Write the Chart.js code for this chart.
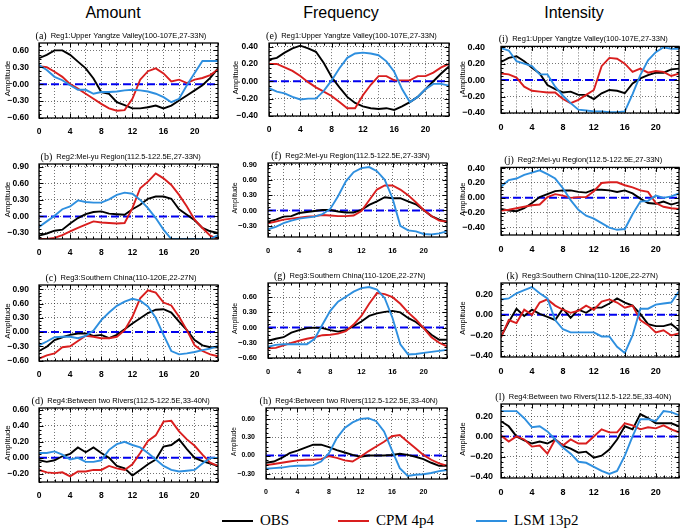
<!DOCTYPE html>
<html>
<head>
<meta charset="utf-8">
<script src="https://cdn.jsdelivr.net/npm/chart.js@4.4.1/dist/chart.umd.min.js"></script>
<style>
  body { margin:0; background:#fff; }
  #page { position:relative; width:685px; height:529px; overflow:hidden; font-family:"Liberation Sans", Arial, sans-serif; }
  .head { position:absolute; top:4px; font-size:16px; transform:translateX(-50%); white-space:nowrap; }
  .panel { position:absolute; }
  .leg { position:absolute; top:512px; font-family:"Liberation Serif", "Times New Roman", serif; font-size:15px; white-space:nowrap; }
  .leg i { display:inline-block; width:31px; height:2px; vertical-align:middle; margin-right:7px; position:relative; top:-1px; }
</style>
</head>
<body>
<div id="page">
  <div class="head" style="left:113px">Amount</div>
  <div class="head" style="left:341px">Frequency</div>
  <div class="head" style="left:574px">Intensity</div>

  <div class="leg" style="left:222px"><i style="background:#000"></i>OBS</div>
  <div class="leg" style="left:338px"><i style="background:#d91e1e"></i>CPM 4p4</div>
  <div class="leg" style="left:476px"><i style="background:#2e8fdf"></i>LSM 13p2</div>
</div>
<script>
// ------------------------- Data -------------------------
const HOURS = [0,1,2,3,4,5,6,7,8,9,10,11,12,13,14,15,16,17,18,19,20,21,22,23];
const GRID_HOURS = [0,2,4,6,8,10,12,14,16,18,20,22];

// Reg1: Upper Yangtze Valley
const amtReg1Obs = [0.46,0.52,0.60,0.60,0.52,0.40,0.28,0.10,-0.14,-0.17,-0.32,-0.37,-0.43,-0.43,-0.41,-0.38,-0.43,-0.38,-0.29,-0.20,-0.11,-0.02,0.11,0.28];
const amtReg1Cpm = [0.32,0.30,0.22,0.13,0.00,-0.08,-0.17,-0.26,-0.35,-0.43,-0.47,-0.46,-0.26,0.08,0.23,0.28,0.19,0.05,0.08,0.02,0.08,0.11,0.16,0.26];
const amtReg1Lsm = [0.34,0.25,0.13,0.07,-0.02,-0.10,-0.10,-0.17,-0.14,-0.14,-0.13,-0.11,-0.10,-0.11,-0.13,-0.17,-0.23,-0.32,-0.26,-0.02,0.20,0.41,0.41,0.41];
const frqReg1Obs = [0.25,0.27,0.33,0.38,0.41,0.38,0.34,0.21,0.05,-0.07,-0.18,-0.25,-0.29,-0.31,-0.32,-0.31,-0.33,-0.29,-0.24,-0.18,-0.09,0.00,0.09,0.17];
const frqReg1Cpm = [0.20,0.20,0.16,0.12,0.06,-0.01,-0.07,-0.12,-0.17,-0.24,-0.31,-0.31,-0.16,-0.04,0.06,0.06,0.01,0.01,0.01,0.06,0.06,0.10,0.16,0.20];
const frqReg1Lsm = [-0.08,-0.12,-0.14,-0.18,-0.21,-0.20,-0.20,-0.11,0.01,0.15,0.27,0.32,0.33,0.32,0.30,0.23,0.11,-0.09,-0.24,-0.18,-0.09,-0.03,-0.03,-0.05];
const intReg1Obs = [0.22,0.27,0.29,0.23,0.15,0.08,-0.06,-0.11,-0.15,-0.14,-0.18,-0.18,-0.23,-0.16,-0.12,-0.13,-0.16,-0.04,0.02,0.06,0.09,0.09,0.13,0.14];
const intReg1Cpm = [0.08,0.07,0.03,-0.08,-0.13,-0.14,-0.15,-0.15,-0.23,-0.28,-0.24,-0.18,-0.12,0.17,0.27,0.26,0.20,0.10,0.14,0.09,0.11,0.10,0.05,0.08];
const intReg1Lsm = [0.39,0.36,0.23,0.20,0.17,0.07,0.07,-0.08,-0.19,-0.28,-0.36,-0.37,-0.38,-0.38,-0.39,-0.39,-0.38,-0.17,0.06,0.24,0.34,0.40,0.38,0.38];

// Reg2: Mei-yu Region
const amtReg2Obs = [-0.35,-0.31,-0.26,-0.24,-0.13,-0.03,0.04,0.08,0.09,0.05,0.04,0.03,0.13,0.21,0.32,0.36,0.36,0.32,0.13,0.03,-0.07,-0.21,-0.27,-0.30];
const amtReg2Cpm = [-0.41,-0.41,-0.39,-0.34,-0.27,-0.21,-0.15,-0.09,-0.11,-0.12,-0.13,-0.12,0.15,0.51,0.63,0.78,0.69,0.57,0.39,0.18,-0.06,-0.21,-0.35,-0.41];
const amtReg2Lsm = [-0.19,-0.09,0.01,0.13,0.18,0.29,0.26,0.25,0.25,0.31,0.39,0.43,0.41,0.30,0.15,-0.03,-0.24,-0.41,-0.41,-0.41,-0.41,-0.41,-0.41,-0.34];
const frqReg2Obs = [-0.22,-0.18,-0.12,-0.11,-0.05,-0.03,-0.01,0.01,0.01,-0.02,-0.04,-0.04,0.01,0.11,0.18,0.26,0.24,0.24,0.18,0.12,0.01,-0.11,-0.18,-0.22];
const frqReg2Cpm = [-0.25,-0.22,-0.18,-0.16,-0.14,-0.12,-0.11,-0.09,-0.10,-0.11,-0.11,-0.10,-0.01,0.20,0.41,0.49,0.49,0.41,0.30,0.16,0.01,-0.11,-0.20,-0.22];
const frqReg2Lsm = [-0.37,-0.32,-0.25,-0.20,-0.16,-0.14,-0.12,-0.07,0.03,0.28,0.57,0.75,0.83,0.85,0.77,0.60,0.24,-0.30,-0.39,-0.41,-0.46,-0.47,-0.45,-0.41];
const intReg2Obs = [-0.15,-0.17,-0.18,-0.14,-0.07,0.01,0.05,0.09,0.10,0.10,0.08,0.07,0.11,0.11,0.10,0.08,0.10,0.06,-0.01,-0.07,-0.08,-0.05,-0.09,-0.06];
const intReg2Cpm = [-0.17,-0.16,-0.14,-0.12,-0.10,-0.09,0.01,0.05,0.03,0.00,0.01,0.01,0.09,0.20,0.21,0.21,0.17,0.14,0.10,0.08,-0.07,-0.12,-0.14,-0.15];
const intReg2Lsm = [0.15,0.24,0.26,0.31,0.34,0.37,0.32,0.26,0.13,-0.03,-0.16,-0.24,-0.28,-0.34,-0.40,-0.43,-0.42,-0.22,-0.05,-0.04,0.03,0.00,0.02,0.06];

// Reg3: Southern China
const amtReg3Obs = [-0.40,-0.31,-0.17,-0.11,-0.06,-0.03,-0.03,-0.08,-0.06,-0.13,-0.06,0.06,0.18,0.29,0.40,0.47,0.48,0.41,0.22,0.04,-0.17,-0.28,-0.32,-0.32];
const amtReg3Cpm = [-0.56,-0.49,-0.45,-0.32,-0.30,-0.19,-0.08,-0.10,-0.13,-0.13,-0.10,0.04,0.32,0.71,0.88,0.83,0.62,0.56,0.32,0.04,-0.28,-0.40,-0.47,-0.51];
const amtReg3Lsm = [-0.28,-0.20,-0.11,-0.10,-0.10,-0.13,-0.08,0.03,0.25,0.41,0.55,0.64,0.70,0.66,0.54,0.30,-0.06,-0.40,-0.47,-0.45,-0.42,-0.38,-0.35,-0.29];
const frqReg3Obs = [-0.26,-0.22,-0.19,-0.10,-0.05,-0.01,0.00,-0.01,-0.05,-0.08,-0.05,0.03,0.12,0.23,0.28,0.31,0.33,0.30,0.19,0.11,-0.01,-0.14,-0.24,-0.24];
const frqReg3Cpm = [-0.41,-0.40,-0.35,-0.30,-0.26,-0.22,-0.19,-0.15,-0.14,-0.12,-0.07,0.06,0.23,0.47,0.68,0.66,0.60,0.47,0.30,0.16,-0.01,-0.19,-0.30,-0.37];
const frqReg3Lsm = [-0.38,-0.34,-0.33,-0.33,-0.33,-0.33,-0.22,0.06,0.33,0.51,0.61,0.71,0.78,0.80,0.75,0.58,0.19,-0.33,-0.53,-0.52,-0.50,-0.48,-0.46,-0.44];
const intReg3Obs = [-0.21,-0.07,0.06,-0.01,0.05,0.01,-0.02,-0.05,0.06,-0.03,0.05,0.02,0.07,0.07,0.11,0.16,0.12,0.09,0.01,-0.09,-0.11,-0.11,-0.09,-0.15];
const intReg3Cpm = [-0.22,-0.05,-0.08,0.05,0.00,0.12,0.15,0.09,0.05,0.02,0.04,0.09,0.05,0.13,0.15,0.12,0.07,0.09,-0.05,-0.10,-0.17,-0.15,-0.20,-0.18];
const intReg3Lsm = [0.15,0.16,0.21,0.24,0.27,0.21,0.16,-0.05,-0.14,-0.17,-0.17,-0.17,-0.17,-0.21,-0.21,-0.31,-0.37,-0.20,0.06,0.06,0.10,0.11,0.12,0.23];

// Reg4: Between two Rivers
const amtReg4Obs = [-0.03,-0.05,-0.03,0.02,0.05,0.13,0.07,0.13,0.06,0.00,-0.10,-0.13,-0.22,-0.15,-0.08,-0.02,0.14,0.16,0.23,0.11,0.00,-0.04,-0.07,-0.10];
const amtReg4Cpm = [-0.15,-0.18,-0.19,-0.18,-0.23,-0.17,-0.17,-0.15,-0.15,-0.10,-0.13,-0.15,-0.08,0.06,0.21,0.28,0.45,0.46,0.33,0.23,0.15,0.04,-0.06,-0.10];
const amtReg4Lsm = [0.06,0.06,0.08,0.04,-0.02,0.00,-0.05,-0.05,-0.03,0.10,0.17,0.20,0.16,0.13,0.06,-0.02,-0.10,-0.15,-0.17,-0.16,-0.15,-0.07,0.00,0.00];
const frqReg4Obs = [-0.12,-0.10,-0.04,0.04,0.08,0.13,0.18,0.18,0.14,0.09,0.05,0.01,-0.02,0.00,0.00,0.00,0.01,0.03,0.01,-0.02,-0.06,-0.12,-0.17,-0.17];
const frqReg4Cpm = [-0.16,-0.14,-0.12,-0.10,-0.08,-0.07,-0.07,-0.06,-0.01,-0.04,-0.08,-0.10,-0.02,0.07,0.15,0.23,0.32,0.34,0.23,0.12,0.01,-0.07,-0.13,-0.17];
const frqReg4Lsm = [-0.22,-0.21,-0.20,-0.18,-0.17,-0.17,-0.16,-0.10,0.04,0.29,0.46,0.55,0.61,0.62,0.57,0.40,0.09,-0.21,-0.34,-0.32,-0.31,-0.29,-0.26,-0.24];
const intReg4Obs = [0.15,0.10,0.00,-0.04,-0.07,-0.05,-0.07,-0.03,-0.09,-0.12,-0.16,-0.15,-0.21,-0.19,-0.13,-0.03,0.10,0.07,0.22,0.18,0.13,0.13,0.13,0.10];
const intReg4Cpm = [0.01,-0.05,0.00,-0.03,-0.10,-0.09,-0.17,-0.03,-0.09,-0.03,-0.07,-0.07,0.00,0.07,0.04,0.04,0.13,0.11,0.07,0.09,0.08,0.11,0.07,0.04];
const intReg4Lsm = [0.25,0.25,0.25,0.18,0.09,0.10,0.05,-0.03,-0.11,-0.17,-0.25,-0.26,-0.30,-0.34,-0.37,-0.34,-0.19,0.00,0.17,0.17,0.15,0.25,0.24,0.21];

// y ranges and tick labels per panel
const amtReg1Range = [-0.60, 0.73], amtReg1Ticks = [-0.6,-0.3,0,0.3,0.6];
const frqReg1Range = [-0.40, 0.44], frqReg1Ticks = [-0.4,-0.2,0,0.2,0.4];
const intReg1Range = [-0.40, 0.41], intReg1Ticks = [-0.4,-0.2,0,0.2,0.4];
const amtReg2Range = [-0.41, 0.95], amtReg2Ticks = [-0.3,0,0.3,0.6,0.9];
const frqReg2Range = [-0.52, 0.93], frqReg2Ticks = [-0.3,0,0.3,0.6,0.9];
const intReg2Range = [-0.50, 0.41], intReg2Ticks = [-0.4,-0.2,0,0.2,0.4];
const amtReg3Range = [-0.61, 0.99], amtReg3Ticks = [-0.6,-0.3,0,0.3,0.6,0.9];
const frqReg3Range = [-0.60, 0.88], frqReg3Ticks = [-0.6,-0.3,0,0.3,0.6];
const intReg3Range = [-0.41, 0.31], intReg3Ticks = [-0.4,-0.2,0,0.2];
const amtReg4Range = [-0.30, 0.62], amtReg4Ticks = [-0.2,0,0.2,0.4,0.6];
const frqReg4Range = [-0.39, 0.79], frqReg4Ticks = [-0.3,0,0.3,0.6];
const intReg4Range = [-0.41, 0.32], intReg4Ticks = [-0.4,-0.2,0,0.2];

const REG_NAMES = [
  'Reg1:Upper Yangtze Valley(100-107E,27-33N)',
  'Reg2:Mei-yu Region(112.5-122.5E,27-33N)',
  'Reg3:Southern China(110-120E,22-27N)',
  'Reg4:Between two Rivers(112.5-122.5E,33-40N)'
];

// ------------------------- Panel table -------------------------
const PANELS = [
  { letter:'(a)', name:REG_NAMES[0], obs:amtReg1Obs, cpm:amtReg1Cpm, lsm:amtReg1Lsm, range:amtReg1Range, ticks:amtReg1Ticks },
  { letter:'(b)', name:REG_NAMES[1], obs:amtReg2Obs, cpm:amtReg2Cpm, lsm:amtReg2Lsm, range:amtReg2Range, ticks:amtReg2Ticks },
  { letter:'(c)', name:REG_NAMES[2], obs:amtReg3Obs, cpm:amtReg3Cpm, lsm:amtReg3Lsm, range:amtReg3Range, ticks:amtReg3Ticks },
  { letter:'(d)', name:REG_NAMES[3], obs:amtReg4Obs, cpm:amtReg4Cpm, lsm:amtReg4Lsm, range:amtReg4Range, ticks:amtReg4Ticks },
  { letter:'(e)', name:REG_NAMES[0], obs:frqReg1Obs, cpm:frqReg1Cpm, lsm:frqReg1Lsm, range:frqReg1Range, ticks:frqReg1Ticks },
  { letter:'(f)', name:REG_NAMES[1], obs:frqReg2Obs, cpm:frqReg2Cpm, lsm:frqReg2Lsm, range:frqReg2Range, ticks:frqReg2Ticks },
  { letter:'(g)', name:REG_NAMES[2], obs:frqReg3Obs, cpm:frqReg3Cpm, lsm:frqReg3Lsm, range:frqReg3Range, ticks:frqReg3Ticks },
  { letter:'(h)', name:REG_NAMES[3], obs:frqReg4Obs, cpm:frqReg4Cpm, lsm:frqReg4Lsm, range:frqReg4Range, ticks:frqReg4Ticks },
  { letter:'(i)', name:REG_NAMES[0], obs:intReg1Obs, cpm:intReg1Cpm, lsm:intReg1Lsm, range:intReg1Range, ticks:intReg1Ticks },
  { letter:'(j)', name:REG_NAMES[1], obs:intReg2Obs, cpm:intReg2Cpm, lsm:intReg2Lsm, range:intReg2Range, ticks:intReg2Ticks },
  { letter:'(k)', name:REG_NAMES[2], obs:intReg3Obs, cpm:intReg3Cpm, lsm:intReg3Lsm, range:intReg3Range, ticks:intReg3Ticks },
  { letter:'(l)', name:REG_NAMES[3], obs:intReg4Obs, cpm:intReg4Cpm, lsm:intReg4Lsm, range:intReg4Range, ticks:intReg4Ticks }
];

// plot boxes [left, top, right, bottom] in page px, tick font, label gap, "Amplitude" offset
const LAYOUT = [
  { box:[39,43,218,118],  font:8.5, gap:10, amp:31, ampFont:8 },
  { box:[39,164,218,239], font:8.5, gap:10, amp:31, ampFont:8 },
  { box:[39,285,218,361], font:8.5, gap:10, amp:31, ampFont:8 },
  { box:[39,408,218,482], font:8.5, gap:10, amp:31, ampFont:8 },
  { box:[269,43,449,116], font:8.5, gap:11, amp:33, ampFont:7.5 },
  { box:[268,163,447,237], font:7.5, gap:11, amp:33, ampFont:7 },
  { box:[268,283,447,358], font:7.5, gap:11, amp:33, ampFont:7 },
  { box:[266,408,447,479], font:7,   gap:11, amp:32, ampFont:6.5 },
  { box:[501,41,679,113],  font:9,   gap:16, amp:38, ampFont:7.5 },
  { box:[501,162,679,235], font:9,   gap:16, amp:38, ampFont:7.5 },
  { box:[501,283,679,357], font:9,   gap:8,  amp:38, ampFont:7.5 },
  { box:[501,404,679,478], font:9,   gap:8,  amp:38, ampFont:7.5 }
];

const OBS_COLOR = '#000000';
const CPM_COLOR = '#d91e1e';
const LSM_COLOR = '#2e8fdf';

// ------------------------- NCL-like frame plugin -------------------------
const nclFrame = {
  id: 'nclFrame',
  beforeDatasetsDraw(chart) {
    const { ctx, chartArea: a, scales: { y } } = chart;
    const py = y.getPixelForValue(0);
    ctx.save();
    ctx.strokeStyle = '#0000ee';
    ctx.lineWidth = 2;
    ctx.setLineDash([8, 4]);
    ctx.beginPath();
    ctx.moveTo(a.left, py);
    ctx.lineTo(a.right, py);
    ctx.stroke();
    ctx.restore();
  },
  afterDraw(chart, args, opts) {
    const { ctx, chartArea: a, scales: { x, y } } = chart;
    const p = opts.panel, lay = opts.layout;
    ctx.save();
    ctx.setLineDash([]);
    ctx.strokeStyle = '#000';
    // inward tick marks
    ctx.lineWidth = 1;
    ctx.beginPath();
    HOURS.forEach(h => {
      const px = Math.round(x.getPixelForValue(h)) + 0.5;
      const len = h % 4 === 0 ? 4.5 : 2.5;
      ctx.moveTo(px, a.bottom); ctx.lineTo(px, a.bottom - len);
      ctx.moveTo(px, a.top); ctx.lineTo(px, a.top + len);
    });
    const step = p.ticks[1] - p.ticks[0];
    for (let k = -8; k <= 32; k++) {
      const v = p.ticks[0] + k * step / 4;
      if (v < p.range[0] - 1e-9 || v > p.range[1] + 1e-9) continue;
      const py = Math.round(y.getPixelForValue(v)) + 0.5;
      const len = k % 4 === 0 ? 4.5 : 2.5;
      ctx.moveTo(a.left, py); ctx.lineTo(a.left + len, py);
      ctx.moveTo(a.right, py); ctx.lineTo(a.right - len, py);
    }
    ctx.stroke();
    // frame
    ctx.lineWidth = 1.3;
    ctx.strokeRect(a.left, a.top, a.right - a.left, a.bottom - a.top);

    // panel title
    ctx.fillStyle = '#000';
    ctx.textBaseline = 'middle';
    ctx.textAlign = 'left';
    ctx.font = '7.5px "Liberation Sans", Arial, sans-serif';
    const tw = ctx.measureText(p.name).width;
    const cx = (a.left + a.right) / 2;
    const ty = a.top - 7;
    ctx.fillText(p.name, cx - tw / 2, ty);
    ctx.font = '10px "Liberation Serif", "Times New Roman", serif';
    const lw = ctx.measureText(p.letter).width;
    ctx.fillText(p.letter, cx - tw / 2 - lw - 4, ty);

    // y-axis title
    ctx.translate(a.left - lay.amp, (a.top + a.bottom) / 2 - 2);
    ctx.rotate(-Math.PI / 2);
    ctx.textAlign = 'center';
    ctx.font = lay.ampFont + 'px "Liberation Sans", Arial, sans-serif';
    ctx.fillText('Amplitude', 0, 0);
    ctx.restore();
  }
};

function fmtTick(v) {
  const s = Math.abs(v).toFixed(2);
  return v < -1e-9 ? '\u2212' + s : s;
}

function makePanel(p, lay) {
  const [l, t, r, b] = lay.box;
  const padL = 44, padT = 16, padR = 4, padB = 24;
  const w = r - l + padL + padR, h = b - t + padT + padB;
  const wrap = document.createElement('div');
  wrap.className = 'panel';
  wrap.style.left = (l - padL) + 'px';
  wrap.style.top = (t - padT) + 'px';
  wrap.style.width = w + 'px';
  wrap.style.height = h + 'px';
  const cv = document.createElement('canvas');
  cv.width = w; cv.height = h;
  cv.style.width = w + 'px'; cv.style.height = h + 'px';
  wrap.appendChild(cv);
  document.getElementById('page').appendChild(wrap);

  const series = (vals, color) => ({
    data: vals.map((v, i) => ({ x: HOURS[i], y: v })),
    borderColor: color,
    borderWidth: 1.9,
    pointRadius: 0,
    tension: 0,
    fill: false
  });
  const tickFont = { family: '"Liberation Sans", Arial, sans-serif', size: lay.font, weight: 'bold' };
  const gridStyle = { color: 'rgba(0,0,0,0.55)', lineWidth: 1, drawTicks: false };

  new Chart(cv, {
    type: 'line',
    data: { datasets: [ series(p.lsm, LSM_COLOR), series(p.cpm, CPM_COLOR), series(p.obs, OBS_COLOR) ] },
    options: {
      responsive: false,
      animation: false,
      devicePixelRatio: 1,
      layout: { padding: { left: 0, top: padT, right: padR, bottom: 0 } },
      plugins: {
        legend: { display: false },
        tooltip: { enabled: false },
        nclFrame: { panel: p, layout: lay }
      },
      scales: {
        x: {
          type: 'linear', min: 0, max: 23,
          afterBuildTicks: s => { s.ticks = GRID_HOURS.map(v => ({ value: v })); },
          afterFit: s => { s.height = padB; },
          ticks: { autoSkip: false, maxRotation: 0, padding: 9, color: '#000', font: tickFont,
                   callback: v => (v % 4 === 0 ? String(v) : '') },
          grid: gridStyle,
          border: { display: false, dash: [1, 2] }
        },
        y: {
          min: p.range[0], max: p.range[1],
          afterBuildTicks: s => { s.ticks = p.ticks.map(v => ({ value: v })); },
          afterFit: s => { s.width = padL; },
          ticks: { autoSkip: false, padding: lay.gap, color: '#000', font: tickFont, callback: v => fmtTick(v) },
          grid: gridStyle,
          border: { display: false, dash: [1, 2] }
        }
      }
    },
    plugins: [nclFrame]
  });
}

PANELS.forEach((p, i) => makePanel(p, LAYOUT[i]));
</script>
</body>
</html>
